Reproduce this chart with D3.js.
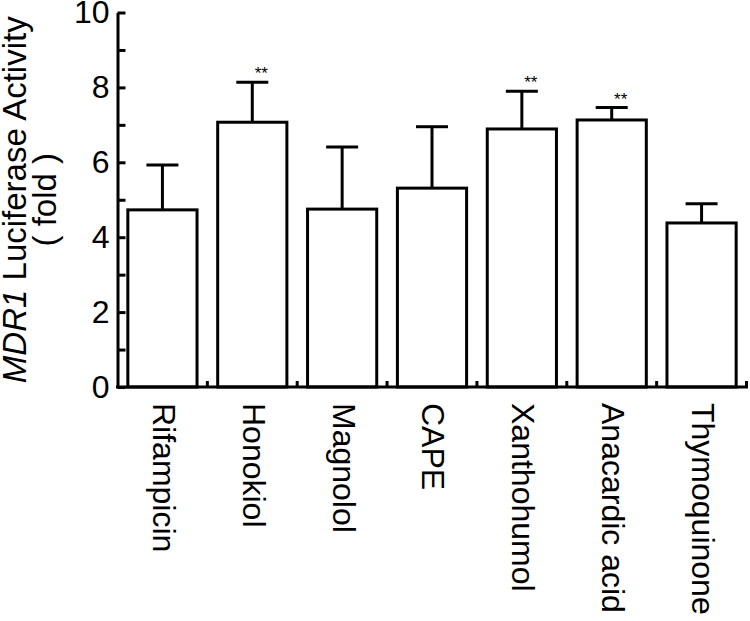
<!DOCTYPE html>
<html lang="en">
<head>
<meta charset="UTF-8"/>
<title>MDR1 Luciferase Activity</title>
<script src="https://d3js.org/d3.v7.min.js"></script>
<style>
	body { margin: 0; background: #fff; }
	svg text { font-family: "Liberation Sans", Arial, Helvetica, sans-serif; fill: #000; }
</style>
</head>
<body>
<script>

	// data
	var compounds = ["Rifampicin", "Honokiol", "Magnolol", "CAPE", "Xanthohumol", "Anacardic acid", "Thymoquinone"];
	var means = [4.73, 7.07, 4.75, 5.31, 6.89, 7.13, 4.38];
	var errors = [1.20, 1.07, 1.66, 1.64, 1.01, 0.33, 0.51];
	var stars = ["", "**", "", "", "**", "**", ""];
	var yTicks = [0, 1, 2, 3, 4, 5, 6, 7, 8, 9, 10];

	var w = 750;
	var h = 621;
	// plot edges (note: "top" is taken by window.top, so use other names)
	var plotLeft = 117.5, plotRight = 746.5, plotTop = 12.5, plotBottom = 387;

	var svg = d3.select("body")
		.append("svg")
		.attr("width", w)
		.attr("height", h);

	var yScale = d3.scaleLinear()
		.domain([0, 10])
		.range([plotBottom, plotTop]);

	// bars
	var xScale = d3.scaleBand()
		.domain(compounds)
		.range([plotLeft, plotRight])
		.paddingInner(0.23)
		.paddingOuter(0.115);

	// category boundaries (no padding)
	var xBound = d3.scaleBand()
		.domain(compounds)
		.range([plotLeft, plotRight]);

	var rows = compounds.map(function(c, i){
		return {name: c, mean: means[i], err: errors[i], star: stars[i]};
	});

	function mid(d){ return xScale(d.name) + xScale.bandwidth() / 2; }

	// bars
	svg.selectAll("rect.bar")
		.data(rows)
		.enter()
		.append("rect")
		.attr("class", "bar")
		.attr("x", function(d){ return xScale(d.name); })
		.attr("y", function(d){ return yScale(d.mean); })
		.attr("width", xScale.bandwidth())
		.attr("height", function(d){ return plotBottom - yScale(d.mean); })
		.attr("fill", "white")
		.attr("stroke", "black")
		.attr("stroke-width", 3);

	// error bars (upper only)
	svg.selectAll("line.err")
		.data(rows)
		.enter()
		.append("line")
		.attr("class", "err")
		.attr("x1", mid)
		.attr("x2", mid)
		.attr("y1", function(d){ return yScale(d.mean); })
		.attr("y2", function(d){ return yScale(d.mean + d.err); })
		.attr("stroke", "black")
		.attr("stroke-width", 3);

	svg.selectAll("line.cap")
		.data(rows)
		.enter()
		.append("line")
		.attr("class", "cap")
		.attr("x1", function(d){ return mid(d) - 16; })
		.attr("x2", function(d){ return mid(d) + 16; })
		.attr("y1", function(d){ return yScale(d.mean + d.err); })
		.attr("y2", function(d){ return yScale(d.mean + d.err); })
		.attr("stroke", "black")
		.attr("stroke-width", 3);

	// significance stars
	svg.selectAll("text.star")
		.data(rows.filter(function(d){ return d.star; }))
		.enter()
		.append("text")
		.attr("class", "star")
		.attr("x", function(d){ return mid(d) + 9; })
		.attr("y", function(d){ return yScale(d.mean + d.err) - 3; })
		.attr("text-anchor", "middle")
		.style("font-size", "17px")
		.text(function(d){ return d.star; });

	// x axis line + small boundary ticks
	svg.append("line")
		.attr("x1", plotLeft - 1.5)
		.attr("x2", plotRight + 1.5)
		.attr("y1", plotBottom)
		.attr("y2", plotBottom)
		.attr("stroke", "black")
		.attr("stroke-width", 3);

	svg.selectAll("line.xtick")
		.data(compounds)
		.enter()
		.append("line")
		.attr("class", "xtick")
		.attr("x1", function(d){ return xBound(d) + xBound.bandwidth(); })
		.attr("x2", function(d){ return xBound(d) + xBound.bandwidth(); })
		.attr("y1", plotBottom)
		.attr("y2", plotBottom - 6)
		.attr("stroke", "black")
		.attr("stroke-width", 3);

	// x labels, rotated
	svg.selectAll("text.xlabel")
		.data(compounds)
		.enter()
		.append("text")
		.attr("class", "xlabel")
		.attr("transform", function(d){
			return "translate(" + (xBound(d) + xBound.bandwidth() / 2 + 2) + "," + (plotBottom + 16) + ") rotate(90)";
		})
		.attr("dy", "0.36em")
		.style("font-size", "32px")
		.text(function(d){ return d; });

	// y axis, ticks pointing inward
	var yAxis = d3.axisLeft(yScale)
		.tickValues(yTicks)
		.tickSizeInner(-8)
		.tickSizeOuter(0)
		.tickPadding(8)
		.tickFormat(function(d){ return d % 2 === 0 ? d : ""; });

	var gy = svg.append("g")
		.attr("transform", "translate(" + plotLeft + ",0)")
		.call(yAxis);

	gy.select(".domain").attr("stroke-width", 3);
	gy.selectAll(".tick line").attr("stroke-width", 3);
	gy.selectAll(".tick text")
		.style("font-size", "32px")
		.style("font-family", "'Liberation Sans', Arial, Helvetica, sans-serif");

	// y axis title
	var title = svg.append("text")
		.attr("transform", "translate(26," + ((plotTop + plotBottom) / 2) + ") rotate(-90)")
		.attr("text-anchor", "middle")
		.style("font-size", "33px");
	title.append("tspan").style("font-style", "italic").text("MDR1");
	title.append("tspan").text(" Luciferase Activity");

	svg.append("text")
		.attr("transform", "translate(56," + ((plotTop + plotBottom) / 2) + ") rotate(-90)")
		.attr("text-anchor", "middle")
		.style("font-size", "33px")
		.text("( fold )");

</script>
</body>
</html>
